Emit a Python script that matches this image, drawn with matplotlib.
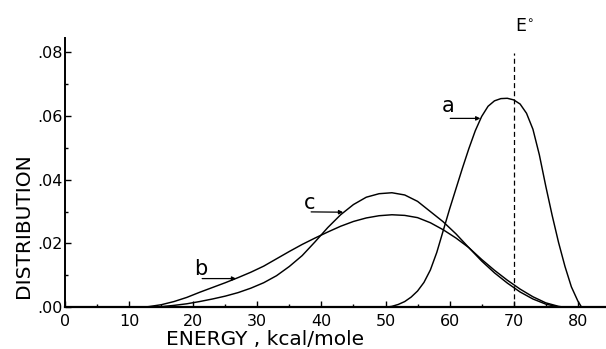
import matplotlib
matplotlib.use("Agg")
import matplotlib.pyplot as plt
from matplotlib.ticker import MultipleLocator, FuncFormatter

# Curve a: narrow distribution peaking near E°
a_energy = [50, 51, 52, 53, 54, 55, 56, 57, 58, 59, 60, 61, 62, 63, 64, 65, 66,
            67, 68, 69, 70, 71, 72, 73, 74, 75, 76, 77, 78, 79, 80, 80.6]
a_dist = [0.0, 0.0003, 0.0009, 0.0018, 0.0032, 0.0051, 0.0078, 0.0117, 0.0172,
          0.0240, 0.0308, 0.0372, 0.0436, 0.0497, 0.0553, 0.0598, 0.0630, 0.0647,
          0.0654, 0.0655, 0.0650, 0.0637, 0.0608, 0.0558, 0.0478, 0.0380,
          0.0288, 0.0203, 0.0128, 0.0064, 0.0020, 0.0]

# Curve b: broad, low peak
b_energy = [11.7, 13, 15, 17, 19, 21, 23, 25, 27, 29, 31, 33, 35, 37, 39, 41, 43,
            45, 47, 49, 51, 53, 55, 57, 59, 61, 63, 65, 67, 69, 71, 73, 75, 77, 78]
b_dist = [0.0, 0.0002, 0.0008, 0.0018, 0.0031, 0.0047, 0.0062, 0.0077, 0.0093,
          0.0110, 0.0129, 0.0152, 0.0175, 0.0197, 0.0217, 0.0236, 0.0254, 0.0269,
          0.0280, 0.0287, 0.0290, 0.0288, 0.0281, 0.0265, 0.0243, 0.0217,
          0.0187, 0.0150, 0.0116, 0.0085, 0.0057, 0.0033, 0.0014, 0.0003, 0.0]

# Curve c: intermediate
c_energy = [13, 15, 17, 19, 21, 23, 25, 27, 29, 31, 33, 35, 37, 39, 41, 43, 45,
            47, 49, 51, 53, 55, 57, 59, 61, 63, 65, 67, 69, 71, 73, 75, 77, 78]
c_dist = [0.0, 0.0002, 0.0006, 0.0011, 0.0018, 0.0026, 0.0035, 0.0046, 0.0060,
          0.0077, 0.0099, 0.0128, 0.0162, 0.0205, 0.0250, 0.0290, 0.0322, 0.0345,
          0.0356, 0.0359, 0.0352, 0.0332, 0.0300, 0.0268, 0.0230, 0.0187,
          0.0145, 0.0108, 0.0076, 0.0048, 0.0026, 0.0010, 0.0001, 0.0]

E_ZERO = 70
x_ticks = [0, 10, 20, 30, 40, 50, 60, 70, 80]
y_ticks = [0.0, 0.02, 0.04, 0.06, 0.08]

plt.rcParams['font.family'] = ['DejaVu Sans']

fig = plt.figure(figsize=(6.06, 3.49), dpi=100)
ax = fig.add_axes([65 / 606, 1 - 307.3 / 349, (606 - 65) / 606, (307.3 - 38) / 349])

lw = 1.05
for xs, ys in [(a_energy, a_dist), (b_energy, b_dist), (c_energy, c_dist)]:
    ax.plot(xs, ys, color='black', lw=lw, solid_joinstyle='round',
            solid_capstyle='round')

# E° marker
ax.plot([E_ZERO, E_ZERO], [0, 0.0796], color='black', lw=0.9, ls=(0, (4, 2.5)))
ax.text(71.6, 0.0882, "E$^{\\circ}$", ha='center', va='center', fontsize=12.5,
        clip_on=False)

# curve labels with little arrows
arrow = dict(arrowstyle='-|>', lw=0.9, color='black', mutation_scale=6,
             shrinkA=0, shrinkB=0)
ax.text(58.7, 0.0600, "a", fontsize=15, ha='left', va='bottom')
ax.annotate('', xy=(64.8, 0.0592), xytext=(60.1, 0.0592), arrowprops=arrow)
ax.text(37.2, 0.0297, "c", fontsize=15, ha='left', va='bottom')
ax.annotate('', xy=(43.4, 0.0298), xytext=(38.4, 0.0299), arrowprops=arrow)
ax.text(20.2, 0.0090, "b", fontsize=15, ha='left', va='bottom')
ax.annotate('', xy=(26.7, 0.0090), xytext=(21.4, 0.0090), arrowprops=arrow)

ax.set_xlim(0, (606 - 65) / 6.41)
ax.set_ylim(0, (307.3 - 38) / 3191)

ax.spines['top'].set_visible(False)
ax.spines['right'].set_visible(False)
ax.spines['left'].set_linewidth(1.4)
ax.spines['bottom'].set_linewidth(1.6)

ax.set_xticks(x_ticks)
ax.set_yticks(y_ticks)
ax.xaxis.set_minor_locator(MultipleLocator(5))
ax.yaxis.set_minor_locator(MultipleLocator(0.01))
ax.yaxis.set_major_formatter(FuncFormatter(lambda v, p: ("%.2f" % v)[1:]))
ax.tick_params(which='major', direction='in', length=4, width=1.0, labelsize=11.5)
ax.tick_params(which='minor', direction='in', length=2.5, width=1.0)
ax.tick_params(axis='x', which='major', pad=5)
ax.tick_params(axis='y', which='major', pad=1.5)

fig.text(265 / 606, 1 - 345 / 349, "ENERGY , kcal/mole", fontsize=14.5,
         ha='center', va='baseline')
fig.text(24 / 606, 1 - 226 / 349, "DISTRIBUTION", fontsize=14.5, rotation=90,
         ha='center', va='center')

fig.savefig("out.png", dpi=100)
